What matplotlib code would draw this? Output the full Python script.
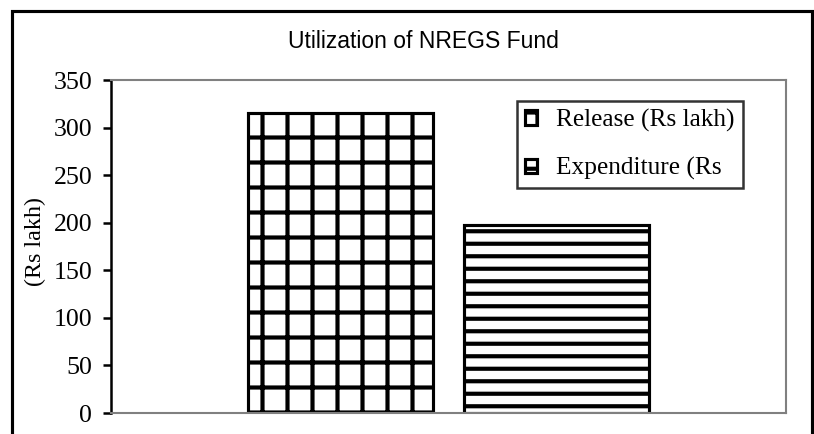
import matplotlib.pyplot as plt
import matplotlib.patches as mpatches
import numpy as np

series = ["Release (Rs lakh)", "Expenditure (Rs"]
values = [315, 198]
hatches = ["+", "--"]
yticks = [0, 50, 100, 150, 200, 250, 300, 350]

plt.rcParams["hatch.linewidth"] = 2.0
plt.rcParams["font.family"] = "Liberation Serif"

dpi = 150
W, H = 814, 434
fig = plt.figure(figsize=(W / dpi, H / dpi), dpi=dpi)
ax = fig.add_axes([111 / W, 1 - 413 / H, 675 / W, 333 / H])

# outer chart frame (bottom edge is cut off in the reference)
frame = mpatches.Rectangle((12 / W, -0.2), 800 / W, 1.2 - 11 / H,
                           transform=fig.transFigure, fill=False,
                           edgecolor="black", linewidth=1.5)
fig.patches.append(frame)

x = np.array([0.0])
width = 0.274
gap = 0.047
offsets = [-(width + gap) / 2, (width + gap) / 2]
for i in range(len(series)):
    ax.bar(x + offsets[i], [values[i]], width=width, color="white",
           edgecolor="black", hatch=hatches[i], linewidth=1.5,
           label=series[i])

ax.set_xlim(-0.5, 0.5)
ax.set_ylim(0, 350)
ax.set_yticks(yticks)
ax.set_xticks([])
ax.tick_params(axis="y", direction="out", length=4, width=1.2,
               labelsize=12.4, pad=5)
for s in ["top", "right", "bottom"]:
    ax.spines[s].set_color("#808080")
    ax.spines[s].set_linewidth(1.0)
ax.spines["left"].set_color("black")
ax.spines["left"].set_linewidth(1.2)

ax.set_ylabel("(Rs lakh)", fontsize=11.5)
ax.yaxis.set_label_coords((46 - 111) / 675, (413 - 242) / 333)
fig.text(423 / W, 1 - 41 / H, "Utilization of NREGS Fund",
         family="Liberation Sans", fontsize=11, ha="center", va="center")

handles = [mpatches.Patch(facecolor="white", edgecolor="black",
                          hatch=hatches[i], linewidth=1.5) for i in range(2)]
leg = ax.legend(handles, series, loc="upper left",
                bbox_to_anchor=((517 - 111) / 675, (413 - 101) / 333),
                fontsize=12.2, frameon=True, fancybox=False,
                edgecolor="black", handlelength=0.5, handleheight=0.5,
                handletextpad=0.75, labelspacing=1.0, borderpad=0.3,
                borderaxespad=0)
leg.get_frame().set_linewidth(1.2)

fig.savefig("out.png", dpi=dpi)
